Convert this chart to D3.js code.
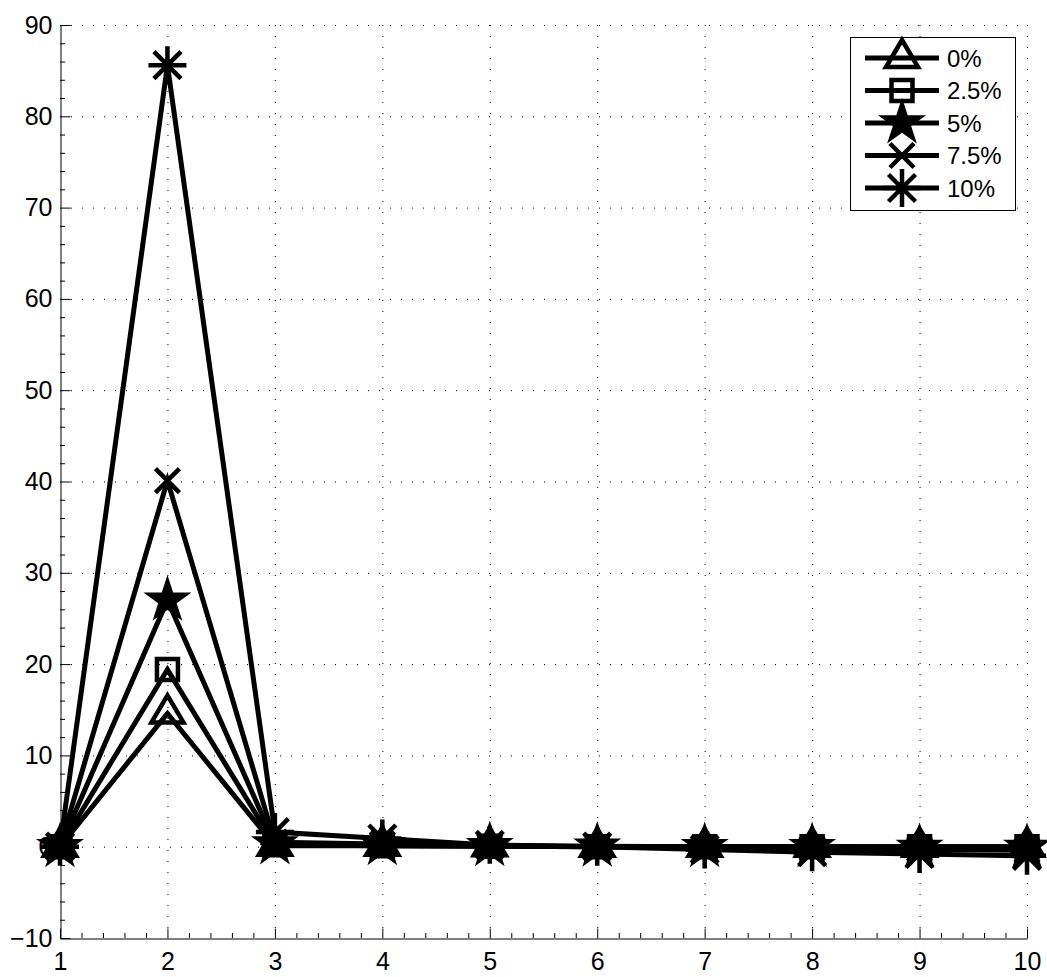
<!DOCTYPE html>
<html>
<head>
<meta charset="utf-8">
<script src="https://cdn.jsdelivr.net/npm/d3@7"></script>
<style>
  body { margin: 0; background: #fff; }
  svg { display: block; }
  text { font-family: "Liberation Sans", Arial, sans-serif; fill: #000; }
</style>
</head>
<body>
<svg id="chart" width="1047" height="977"></svg>
<script>
// Data
const xs = [1, 2, 3, 4, 5, 6, 7, 8, 9, 10];
const seriesNames = ["0%", "2.5%", "5%", "7.5%", "10%"];
const seriesMarkers = ["triangle", "square", "star", "x", "asterisk"];
const s0 = [0, 14.6, 0.1, 0.1, 0.05, 0.0, 0.0, 0.0, 0.0, 0.0];
const s25 = [0, 19.4, 0.2, 0.1, 0.05, 0.0, 0.0, 0.0, 0.0, 0.0];
const s5 = [0, 27.0, 0.3, 0.2, 0.1, 0.05, 0.0, 0.0, -0.1, -0.1];
const s75 = [0, 40.1, 0.5, 0.3, 0.1, 0.0, -0.1, -0.2, -0.3, -0.4];
const s10 = [0, 85.6, 1.6, 0.9, 0.2, 0.0, -0.3, -0.6, -0.8, -1.0];
const seriesValues = [s0, s25, s5, s75, s10];
const xTicks = [1, 2, 3, 4, 5, 6, 7, 8, 9, 10];
const yTicks = [-10, 0, 10, 20, 30, 40, 50, 60, 70, 80, 90];

const svg = d3.select("#chart");
const x = d3.scaleLinear().domain([1, 10]).range([60, 1027]);
const y = d3.scaleLinear().domain([-10, 90]).range([938, 25]);

// Dotted grid
const grid = svg.append("g");
grid.selectAll(".gx").data(xTicks.slice(1)).join("line")
  .attr("x1", d => x(d) + 0.5).attr("x2", d => x(d) + 0.5)
  .attr("y1", y(90)).attr("y2", y(-10))
  .attr("stroke", "#000").attr("stroke-width", 1).attr("stroke-dasharray", "1,10");
grid.selectAll(".gy").data(yTicks.slice(1)).join("line")
  .attr("x1", x(1)).attr("x2", x(10))
  .attr("y1", d => y(d) + 0.5).attr("y2", d => y(d) + 0.5)
  .attr("stroke", "#000").attr("stroke-width", 1).attr("stroke-dasharray", "1,10");

// Axes (ticks pointing inward)
const xAxis = d3.axisBottom(x).tickValues(xTicks).tickFormat(d3.format("d"))
  .tickSizeInner(-10).tickSizeOuter(0).tickPadding(14);
const yAxis = d3.axisLeft(y).tickValues(yTicks)
  .tickFormat(d => d < 0 ? "\u2212" + Math.abs(d) : d)
  .tickSizeInner(-10).tickSizeOuter(0).tickPadding(8);

const minorX = d3.range(1, 10.001, 0.2).filter(v => Math.abs(v - Math.round(v)) > 1e-6);
const minorY = d3.range(-10, 90.001, 2).filter(v => v % 10 !== 0);

const gx = svg.append("g").attr("transform", `translate(0,${y(-10) + 0.5})`).call(xAxis);
const gy = svg.append("g").attr("transform", `translate(${x(1) + 0.5},0)`).call(yAxis);
[gx, gy].forEach(g => {
  g.selectAll(".domain").attr("stroke", "#000").attr("stroke-width", 1);
  g.selectAll(".tick line").attr("stroke", "#000");
  g.selectAll(".tick text").attr("font-size", 25).attr("font-family", "Liberation Sans, Arial, sans-serif");
});
gx.selectAll(".tick text").attr("dy", "0.71em");

svg.append("g").selectAll("line").data(minorX).join("line")
  .attr("x1", d => x(d) + 0.5).attr("x2", d => x(d) + 0.5)
  .attr("y1", y(-10)).attr("y2", y(-10) - 5).attr("stroke", "#000");
svg.append("g").selectAll("line").data(minorY).join("line")
  .attr("x1", x(1)).attr("x2", x(1) + 5)
  .attr("y1", d => y(d) + 0.5).attr("y2", d => y(d) + 0.5).attr("stroke", "#000");

// Marker shapes, centred on the data point
function starPath(R) {
  const r = R * 0.382;
  const pts = [];
  for (let i = 0; i < 10; i++) {
    const a = -Math.PI / 2 + i * Math.PI / 5;
    const rr = i % 2 === 0 ? R : r;
    pts.push([rr * Math.cos(a), rr * Math.sin(a)]);
  }
  return "M" + pts.map(p => p[0].toFixed(2) + "," + p[1].toFixed(2)).join("L") + "Z";
}
const markerPaths = {
  triangle: "M0,-18L16,9L-16,9Z",
  square: "M-10.5,-10.5L10.5,-10.5L10.5,10.5L-10.5,10.5Z",
  star: starPath(18),
  x: "M-12,-12L12,12M-12,12L12,-12",
  asterisk: "M0,-19L0,19M-19,0L19,0M-13.5,-13.5L13.5,13.5M-13.5,13.5L13.5,-13.5"
};
// The heavy-stroked pentagram closes up into a solid shape
const markerFill = { star: "#000" };

function drawMarker(g, type, cx, cy) {
  g.append("path")
    .attr("d", markerPaths[type])
    .attr("transform", `translate(${cx},${cy})`)
    .attr("fill", markerFill[type] || "none").attr("stroke", "#000")
    .attr("stroke-width", 4.5).attr("stroke-linejoin", "miter");
}

// Series
const line = d3.line().x(d => x(d[0])).y(d => y(d[1]));
const plot = svg.append("g");
seriesValues.forEach((vals, i) => {
  const pts = xs.map((xv, j) => [xv, vals[j]]);
  const g = plot.append("g");
  g.append("path").attr("d", line(pts))
    .attr("fill", "none").attr("stroke", "#000").attr("stroke-width", 5)
    .attr("stroke-linejoin", "miter").attr("stroke-miterlimit", 10);
  pts.forEach(p => drawMarker(g, seriesMarkers[i], x(p[0]), y(p[1])));
});

// Legend
const legend = svg.append("g");
legend.append("rect").attr("x", 850.5).attr("y", 37.5).attr("width", 165).attr("height", 173)
  .attr("fill", "#fff").attr("stroke", "#000").attr("stroke-width", 1);
seriesNames.forEach((name, i) => {
  const ly = 58 + i * 32.5;
  legend.append("line").attr("x1", 865).attr("x2", 939).attr("y1", ly).attr("y2", ly)
    .attr("stroke", "#000").attr("stroke-width", 5);
  drawMarker(legend, seriesMarkers[i], 902, ly);
  legend.append("text").attr("x", 947).attr("y", ly).attr("dy", "0.36em")
    .attr("font-size", 24).text(name);
});
</script>
</body>
</html>
